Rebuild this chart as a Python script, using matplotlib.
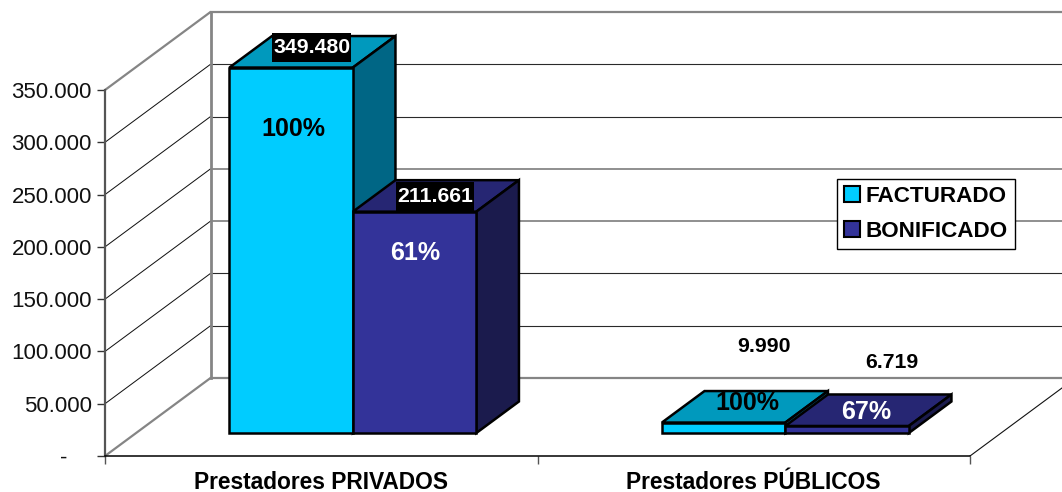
import matplotlib
matplotlib.use("Agg")
import matplotlib.pyplot as plt
from matplotlib.patches import Patch
from matplotlib.path import Path

plt.rcParams['font.family'] = ['Liberation Sans', 'DejaVu Sans']

categories = ["Prestadores PRIVADOS", "Prestadores PÚBLICOS"]
series_names = ["FACTURADO", "BONIFICADO"]
facturado = [349480, 9990]
bonificado = [211661, 6719]
pct_facturado = ["100%", "100%"]
pct_bonificado = ["61%", "67%"]
y_ticks = [0, 50000, 100000, 150000, 200000, 250000, 300000, 350000]
y_labels = ["-    ", "50.000", "100.000", "150.000", "200.000", "250.000", "300.000", "350.000"]

W, H = 1062, 492
LEFT, ZERO, TOP350, CAT_PX = 105, 456, 90, 432.5
PX_Y = 350000 / (ZERO - TOP350)      # value units per pixel
DX = 105.5 / CAT_PX                  # wall depth in category units
DY = 78 * PX_Y                       # wall depth in value units
D0, D1 = 23 / 78, 54.5 / 78          # bar depth extent
BAR_W = 0.2855
CENTER = 0.5 + 0.5 / CAT_PX

fig = plt.figure(figsize=(W / 100, H / 100), dpi=100, facecolor='white')
ax = fig.add_axes([LEFT / W, (H - ZERO) / H, (W - LEFT) / W, ZERO / H])
ax.set_xlim(0, (W - LEFT) / CAT_PX)
ax.set_ylim(0, ZERO * PX_Y)
ax.set_facecolor('none')


def prj(x, y, d):
    return x + d * DX, y + d * DY


GREY = '#858585'
THIN = '#2a2a2a'
styles = {0: (GREY, 2.0), 50000: (THIN, 1.0), 100000: (THIN, 1.0), 150000: (GREY, 1.6),
          200000: (GREY, 1.6), 250000: (THIN, 1.0), 300000: (THIN, 1.0), 350000: (GREY, 2.0)}
xend = ax.get_xlim()[1]
for v in y_ticks:
    c, lw = styles[v]
    dc = GREY if v in (0, 350000) else '#111111'
    dw = 2.0 if v in (0, 350000) else 0.9
    p0, p1 = prj(0, v, 0), prj(0, v, 1)
    ax.plot([p0[0], p1[0]], [p0[1], p1[1]], color=dc, lw=dw * 0.8, zorder=1, solid_capstyle='round')
    ax.plot([p1[0], xend], [p1[1], p1[1]], color=c, lw=lw * 0.8, zorder=1)
b0, b1 = prj(0, 0, 1), prj(0, 350000, 1)
ax.plot([b0[0], b1[0]], [b0[1], b1[1]], color=GREY, lw=2.0, zorder=1)
f0, f1 = prj(2, 0, 0), prj(2, 0, 1)
ax.plot([f0[0], f1[0]], [f0[1], f1[1]], color='#111111', lw=0.8, zorder=1)


def box(x0, value, front, top, side):
    x1 = x0 + BAR_W
    kw = dict(edgecolor='black', lw=1.8, joinstyle='miter', zorder=3, clip_on=False)
    pts = [prj(x0, value, D0), prj(x1, value, D0), prj(x1, value, D1), prj(x0, value, D1)]
    ax.fill(*zip(*pts), facecolor=top, **kw)
    pts = [prj(x1, 0, D0), prj(x1, 0, D1), prj(x1, value, D1), prj(x1, value, D0)]
    ax.fill(*zip(*pts), facecolor=side, **kw)
    pts = [prj(x0, 0, D0), prj(x1, 0, D0), prj(x1, value, D0), prj(x0, value, D0)]
    ax.fill(*zip(*pts), facecolor=front, **kw)


COL_F = ('#00CCFF', '#0099BD', '#006685')
COL_B = ('#333399', '#262673', '#1B1B4D')
for i in range(len(categories)):
    box(i + CENTER - BAR_W, facturado[i], *COL_F)
    box(i + CENTER, bonificado[i], *COL_B)


def label_box(x0, y0, w, h, mutation_size):
    """Black label plate: little side padding, tall top and bottom padding."""
    px, py = 1.0, 5.0
    x0, y0, x1, y1 = x0 - px, y0 - py, x0 + w + px, y0 + h + py
    return Path([(x0, y0), (x1, y0), (x1, y1), (x0, y1), (x0, y0)], closed=True)


# data labels: pixel offsets from the front top-centre of each bar
val_off = [[(20.6, 20.0), (20.1, 15.5)], [(40.6, 76.5), (44.7, 63.5)]]
pct_off = [[(2.2, -61.8), (0.6, -41.7)], [(24.2, 19.5), (19.2, 13.9)]]
for i in range(len(categories)):
    for j, (vals, pcts) in enumerate(((facturado, pct_facturado), (bonificado, pct_bonificado))):
        xc = i + CENTER + (j - 0.5) * BAR_W
        v = vals[i]
        base = prj(xc, v, D0)
        text = f"{v:,}".replace(',', '.')
        if i == 0:
            kw = dict(bbox=dict(boxstyle=label_box, facecolor='black', edgecolor='none'), color='white')
        else:
            kw = dict(color='black')
        ax.annotate(text, xy=base, xytext=val_off[i][j], textcoords='offset pixels', ha='center', va='center',
                    fontsize=15.3, fontweight='bold', zorder=5, **kw)
        ax.annotate(pcts[i], xy=base, xytext=pct_off[i][j], textcoords='offset pixels', ha='center', va='center',
                    fontsize=18, fontweight='bold', color='white' if j == 1 else 'black', zorder=5)

for s in ('top', 'right'):
    ax.spines[s].set_visible(False)
ax.spines['left'].set_bounds(0, 350000)
ax.spines['left'].set_color('#555555')
ax.spines['left'].set_linewidth(1.6)
ax.spines['bottom'].set_bounds(0, 2)
ax.spines['bottom'].set_linewidth(1.1)
ax.set_yticks(y_ticks, y_labels, fontsize=16)
ax.tick_params(axis='y', length=6, width=1.0, pad=3.5, color='#333333', labelcolor='#111111')
ax.set_xticks([0, 1, 2], ['', '', ''])
ax.tick_params(axis='x', which='major', length=5.5, width=1.0, color='#555555')
ax.set_xticks([0.5, 1.5], categories, minor=True, fontsize=16.4, fontweight='bold')
ax.tick_params(axis='x', which='minor', length=0, pad=10.5)

handles = [Patch(facecolor=COL_F[0], edgecolor='black', lw=1.5),
           Patch(facecolor=COL_B[0], edgecolor='black', lw=1.5)]
leg = ax.legend(handles, series_names, loc='upper left', bbox_to_anchor=(837 / W, 1 - 179 / H),
                bbox_transform=fig.transFigure, borderaxespad=0, fancybox=False, framealpha=1,
                edgecolor='black', prop=dict(size=16.2, weight='bold'), handlelength=0.72, handleheight=0.72,
                handletextpad=0.22, labelspacing=0.6, borderpad=0.32)
leg.set_zorder(6)
leg.get_frame().set_linewidth(1.0)

fig.savefig('out.png', dpi=100)
